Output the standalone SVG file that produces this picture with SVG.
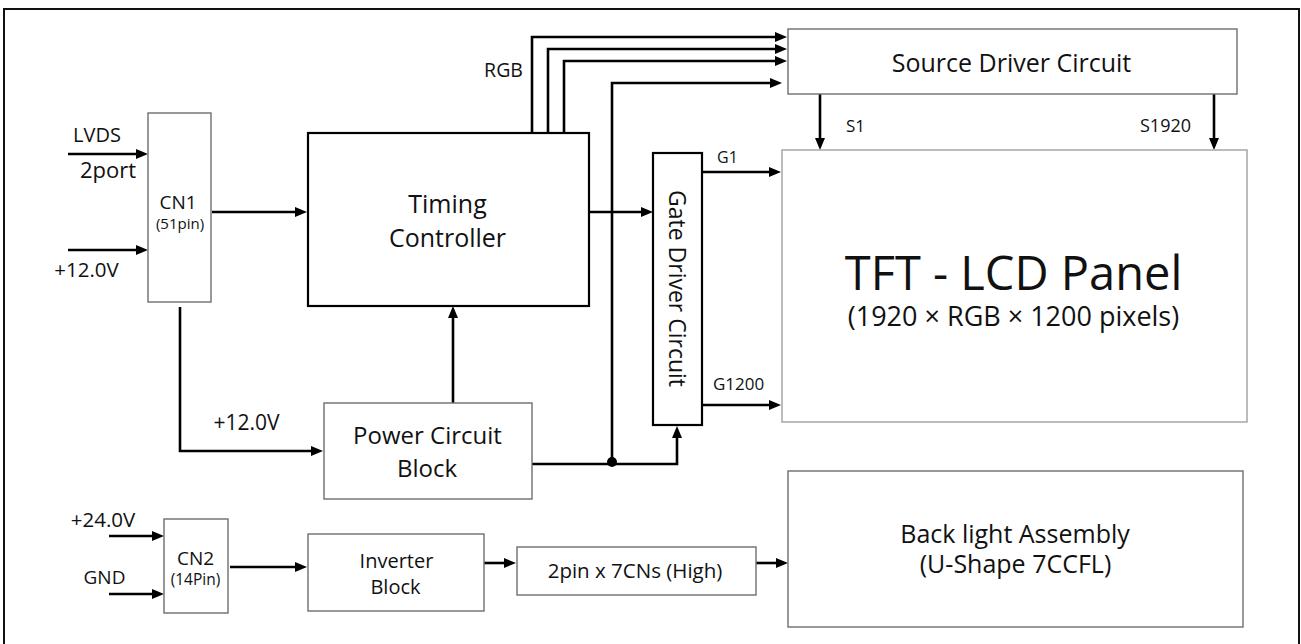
<svg xmlns="http://www.w3.org/2000/svg" width="1301" height="644" viewBox="0 0 1301 644">
<style>
text{font-family:"Open Sans","Noto Sans","DejaVu Sans",sans-serif;fill:#111;}
.m{text-anchor:middle;}
.box{fill:#fff;stroke:#6e6e6e;stroke-width:1.4;}
.bbox{fill:#fff;stroke:#000;stroke-width:2.2;}
.pbox{fill:#fff;stroke:#a0a0a0;stroke-width:1.4;}
.c{fill:none;stroke:#000;stroke-width:2.6;marker-end:url(#ah);}
.cn{fill:none;stroke:#000;stroke-width:2.6;}
</style>
<defs>
<marker id="ah" markerUnits="userSpaceOnUse" markerWidth="12" markerHeight="10" refX="6" refY="5" orient="auto">
<path d="M0,0 L12,5 L0,10 z" fill="#000"/>
</marker>
</defs>
<rect x="4" y="9" width="1295" height="670" fill="#fff" stroke="#111" stroke-width="2"/>

<g id="connectors">
<path class="c" d="M68,154 H142"/>
<path class="c" d="M68,250 H142"/>
<path class="c" d="M212,212 H301"/>
<path class="c" d="M532,133 V37 H781"/>
<path class="c" d="M548,133 V49 H781"/>
<path class="c" d="M564,133 V61 H781"/>
<path class="c" d="M612,461 V83 H776"/>
<path class="c" d="M589,212 H647"/>
<path class="c" d="M702,172 H775"/>
<path class="c" d="M702,405 H775"/>
<path class="c" d="M820,94 V144"/>
<path class="c" d="M1214,94 V144"/>
<path class="c" d="M180,307 V451 H317"/>
<path class="c" d="M453,403 V312"/>
<path class="c" d="M532,464 H677 V432"/>
<circle cx="612" cy="462" r="5" fill="#000"/>
<path class="c" d="M109,536 H158"/>
<path class="c" d="M109,594 H158"/>
<path class="c" d="M230,567 H301"/>
<path class="c" d="M484,563 H510"/>
<path class="c" d="M756,563 H782"/>
</g>

<g id="labels">
<text class="m" x="97" y="142" font-size="20">LVDS</text>
<text class="m" x="108" y="178" font-size="22">2port</text>
<text class="m" x="86.5" y="277" font-size="20.5">+12.0V</text>
<text class="m" x="503.5" y="77" font-size="19.5">RGB</text>
<text x="846" y="132" font-size="17">S1</text>
<text x="1140" y="132" font-size="18">S1920</text>
<text x="717" y="163" font-size="16">G1</text>
<text x="713" y="390" font-size="17">G1200</text>
<text class="m" x="246.5" y="430" font-size="21">+12.0V</text>
<text class="m" x="103" y="527" font-size="20.5">+24.0V</text>
<text class="m" x="104.5" y="584" font-size="19">GND</text>
</g>

<g id="cn1">
<rect class="box" x="148" y="113" width="63" height="189"/>
<text class="m" x="178" y="209" font-size="19">CN1</text>
<text class="m" x="180" y="229" font-size="15">(51pin)</text>
</g>

<g id="timing-controller">
<rect class="bbox" x="308" y="133" width="281" height="173"/>
<text class="m" x="447.5" y="213" font-size="25">Timing</text>
<text class="m" x="447.5" y="247" font-size="25">Controller</text>
</g>

<g id="source-driver">
<rect class="box" x="788" y="29" width="449" height="65"/>
<text class="m" x="1011.5" y="72" font-size="25">Source Driver Circuit</text>
</g>

<g id="tft-panel">
<rect class="pbox" x="782" y="150" width="465" height="272"/>
<text class="m" x="1013.5" y="290" font-size="47">TFT - LCD Panel</text>
<text class="m" x="1013.5" y="326" font-size="27">(1920 × RGB × 1200 pixels)</text>
</g>

<g id="gate-driver">
<rect class="bbox" x="653" y="153" width="49" height="272"/>
<text class="m" font-size="23" transform="translate(669,288.5) rotate(90)">Gate Driver Circuit</text>
</g>

<g id="power-circuit">
<rect class="box" x="324" y="403" width="208" height="96"/>
<text class="m" x="427.5" y="444" font-size="24">Power Circuit</text>
<text class="m" x="427" y="477" font-size="24">Block</text>
</g>

<g id="cn2">
<rect class="box" x="164" y="519" width="64" height="94"/>
<text class="m" x="195.5" y="565" font-size="19">CN2</text>
<text class="m" x="195.5" y="585" font-size="15.5">(14Pin)</text>
</g>

<g id="inverter">
<rect class="box" x="308" y="534" width="176" height="77"/>
<text class="m" x="396.5" y="568" font-size="20">Inverter</text>
<text class="m" x="395.5" y="594" font-size="20">Block</text>
</g>

<g id="connector-2pin">
<rect class="box" x="517" y="547" width="239" height="48"/>
<text class="m" x="635" y="578" font-size="20.5">2pin x 7CNs (High)</text>
</g>

<g id="backlight">
<rect class="box" x="788" y="471" width="455" height="156"/>
<text class="m" x="1015" y="543" font-size="25">Back light Assembly</text>
<text class="m" x="1015.5" y="573" font-size="25">(U-Shape 7CCFL)</text>
</g>
</svg>
